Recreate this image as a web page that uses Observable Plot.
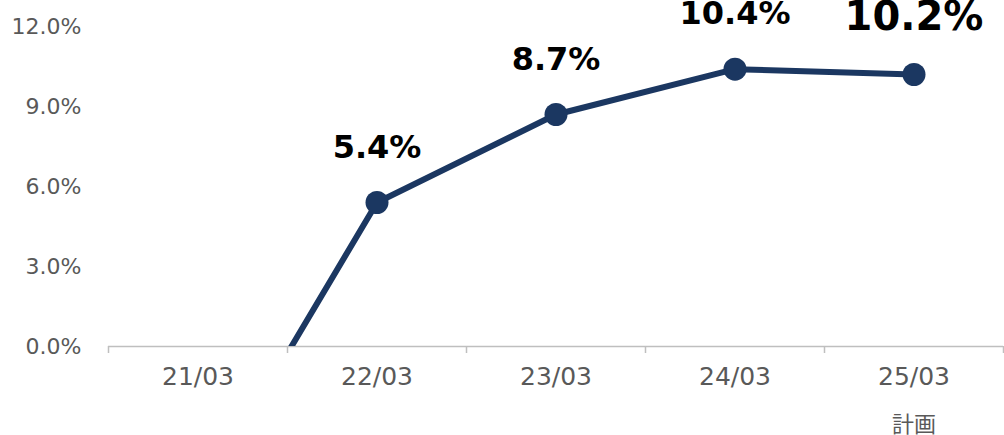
<!DOCTYPE html>
<html>
<head>
<meta charset="utf-8">
<script src="https://cdn.jsdelivr.net/npm/d3@7"></script>
<script src="https://cdn.jsdelivr.net/npm/@observablehq/plot@0.6"></script>
<style>
  html, body { margin: 0; padding: 0; background: #ffffff; }
  #chart svg { display: block; }
</style>
</head>
<body>
<div id="chart"></div>
<script>
const categories = ["21/03", "22/03", "23/03", "24/03", "25/03"];
const values = [-5.9, 5.4, 8.7, 10.4, 10.2];
const yTicks = [0, 3, 6, 9, 12];
const subLabelCategory = "25/03";
const subLabel = "計画";

const data = categories.map((c, i) => ({i, c, v: values[i]}));
const visible = data.filter(d => d.v >= 0);
const bounds = d3.range(categories.length + 1).map(k => k - 0.5);
const navy = "#1b3761";
const grey = "#595959";

const chart = Plot.plot({
  width: 1004,
  height: 435,
  marginLeft: 108,
  marginRight: 1,
  marginTop: 26,
  marginBottom: 89,
  style: {fontFamily: "'DejaVu Sans', 'Noto Sans CJK JP', sans-serif", background: "#ffffff", overflow: "visible"},
  x: {type: "linear", domain: [-0.5, categories.length - 0.5], axis: null},
  y: {domain: [0, 12], axis: null},
  marks: [
    Plot.axisY({ticks: yTicks, tickSize: 0, tickPadding: 27, fontSize: 22, color: grey, label: null,
      tickFormat: d => d.toFixed(1) + "%"}),
    Plot.ruleY([0], {stroke: "#bfbfbf", strokeWidth: 1.5}),
    Plot.axisX({ticks: bounds, tickSize: 7, tickFormat: () => "", stroke: "#bfbfbf", strokeWidth: 1.5, label: null}),
    Plot.text(data, {x: "i", text: "c", frameAnchor: "bottom", dy: 38, fontSize: 25, fill: grey}),
    Plot.text(data.filter(d => d.c === subLabelCategory), {x: "i", text: () => subLabel, frameAnchor: "bottom", dy: 85, fontSize: 22, fill: grey}),
    Plot.line(data, {x: "i", y: "v", stroke: navy, strokeWidth: 6, clip: true}),
    Plot.dot(visible, {x: "i", y: "v", r: 11.5, fill: navy, stroke: null}),
    Plot.text(visible.slice(0, -1), {x: "i", y: "v", text: d => d.v.toFixed(1) + "%", dy: -55, fontSize: 32, fontWeight: "bold", fill: "#000000"}),
    Plot.text(visible.slice(-1), {x: "i", y: "v", text: d => d.v.toFixed(1) + "%", dy: -57, fontSize: 40, fontWeight: "bold", fill: "#000000"})
  ]
});
document.getElementById("chart").appendChild(chart);
</script>
</body>
</html>
